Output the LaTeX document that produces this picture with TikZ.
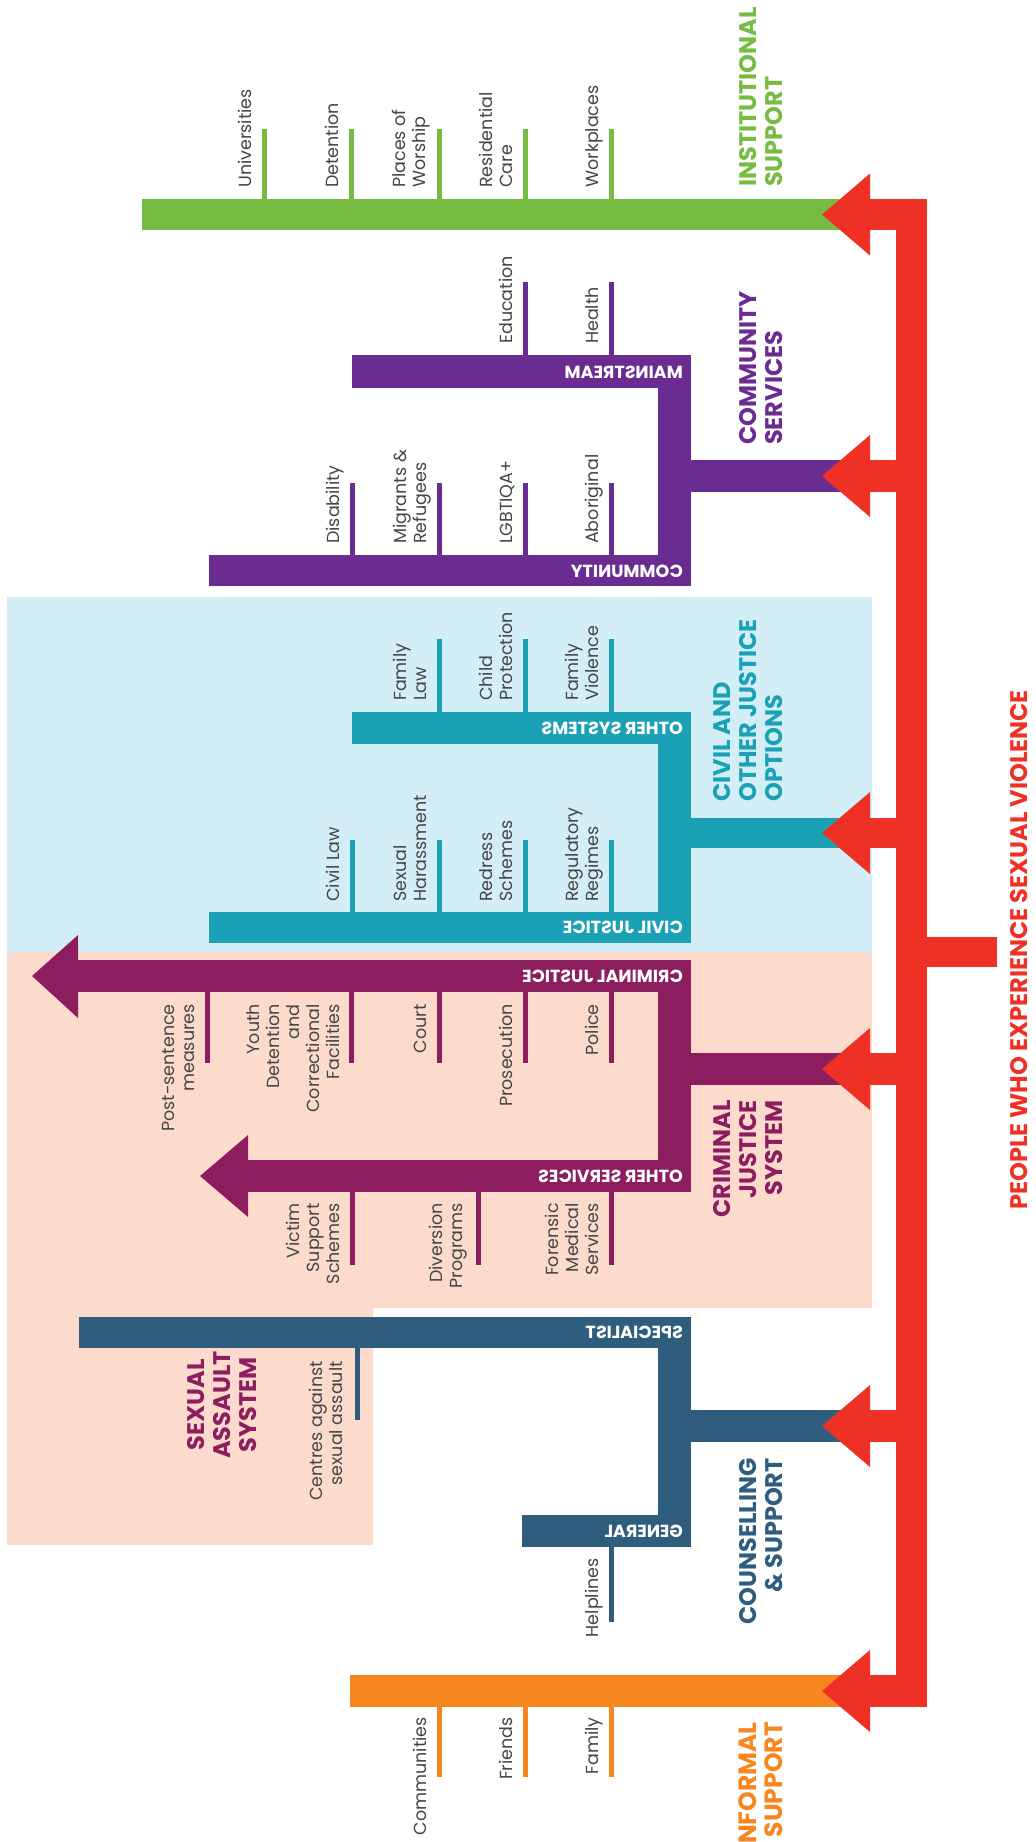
\documentclass[tikz,border=0pt]{standalone}
\usepackage{fontspec}
\setmainfont{Poppins}
\definecolor{cred}{HTML}{EE3124}
\definecolor{cgreen}{HTML}{76BC43}
\definecolor{cpurple}{HTML}{6A2C91}
\definecolor{cteal}{HTML}{1AA1B6}
\definecolor{cmaroon}{HTML}{8C1D5E}
\definecolor{cnavy}{HTML}{2E5D7D}
\definecolor{corange}{HTML}{F7861F}
\definecolor{cbgblue}{HTML}{D4EEF7}
\definecolor{cbgpink}{HTML}{FCDBCD}
\definecolor{ctext}{HTML}{454545}
\begin{document}
\begin{tikzpicture}[x=1pt,y=-1pt,
  tickline/.style={line width=5pt},
  lbl/.style={rotate=90, inner sep=0pt, text=ctext, font=\fontsize{17.5}{20}\selectfont, text depth=4pt},
  lblup/.style={lbl, align=left, anchor=south west},
  lbldn/.style={lbl, align=right, anchor=south east},
  head/.style={rotate=90, inner sep=0pt, font=\fontsize{24}{26}\selectfont\bfseries, text depth=0pt},
  headL/.style={head, align=left, anchor=south west},
  headR/.style={head, align=right, anchor=south east},
  barlbl/.style={xscale=-1, anchor=west, inner sep=0pt, text=white, text depth=0pt, font=\fontsize{17.5}{17.5}\selectfont\bfseries}
]
\useasboundingbox (0,0) rectangle (1036,1842);
\clip (0,0) rectangle (1036,1842);
\fill[white] (0,0) rectangle (1036,1842);
% backgrounds
\fill[cbgblue] (7,597) rectangle (872,952);
\fill[cbgpink] (7,952) -- (872,952) -- (872,1308) -- (373,1308) -- (373,1545) -- (7,1545) -- cycle;

% institutional (green)
\fill[cgreen] (142,199) rectangle (850,230);
\foreach \x in {264,351,439,525,611} \draw[tickline,cgreen] (\x,129) -- (\x,201);

% community (purple)
\fill[cpurple] (352,355) rectangle (691,388);
\fill[cpurple] (209,555) rectangle (691,586);
\fill[cpurple] (658,355) rectangle (691,586);
\fill[cpurple] (691,460) rectangle (850,492);
\foreach \x in {525,611} \draw[tickline,cpurple] (\x,282) -- (\x,357);
\foreach \x in {352,439,525,611} \draw[tickline,cpurple] (\x,483) -- (\x,557);

% civil (teal)
\fill[cteal] (352,712) rectangle (691,744);
\fill[cteal] (209,912) rectangle (691,943);
\fill[cteal] (658,712) rectangle (691,943);
\fill[cteal] (691,818) rectangle (850,848);
\foreach \x in {439,525,611} \draw[tickline,cteal] (\x,639) -- (\x,714);
\foreach \x in {352,439,525,611} \draw[tickline,cteal] (\x,840) -- (\x,914);

% criminal (maroon)
\fill[cmaroon] (76,960) rectangle (691,992);
\fill[cmaroon] (32,976) -- (78,935) -- (78,1018) -- cycle;
\fill[cmaroon] (246,1160) rectangle (691,1192);
\fill[cmaroon] (200,1176) -- (248,1135) -- (248,1217) -- cycle;
\fill[cmaroon] (658,960) rectangle (691,1192);
\fill[cmaroon] (691,1053) rectangle (850,1085);
\foreach \x in {207,351,439,525,611} \draw[tickline,cmaroon] (\x,990) -- (\x,1063);
\foreach \x in {352,478,611} \draw[tickline,cmaroon] (\x,1190) -- (\x,1265);

% counselling (navy)
\fill[cnavy] (79,1317) rectangle (691,1348);
\fill[cnavy] (522,1515) rectangle (691,1547);
\fill[cnavy] (658,1317) rectangle (691,1547);
\fill[cnavy] (691,1410) rectangle (850,1442);
\draw[tickline,cnavy] (357,1346) -- (357,1420);
\draw[tickline,cnavy] (611,1545) -- (611,1622);

% informal (orange)
\fill[corange] (350,1675) rectangle (850,1707);
\foreach \x in {439,525,611} \draw[tickline,corange] (\x,1705) -- (\x,1777);

% red spine and arrows
\fill[cred] (896,199) rectangle (927,1707);
\fill[cred] (926,937) rectangle (997,967);
\foreach \a/\b in {199/230,460/492,818/848,1053/1085,1410/1442,1675/1707}{
  \fill[cred] (868,\a) rectangle (900,\b);
  \fill[cred] (822,{(\a+\b)/2}) -- (870,{(\a+\b)/2-41}) -- (870,{(\a+\b)/2+41}) -- cycle;
}

% labels above bars
\node[lblup] (uni) at (256,188) {Universities};
\node[lblup] (det) at (343,188) {Detention};
\node[lblup] (pow) at (430,188) {Places of\\Worship};
\node[lblup] (res) at (517,188) {Residential\\Care};
\node[lblup] (wor) at (603,188) {Workplaces};
\node[lblup] (edu) at (517,344) {Education};
\node[lblup] (hea) at (603,344) {Health};
\node[lblup] (dis) at (344,544) {Disability};
\node[lblup] (mig) at (431,544) {Migrants \&\\Refugees};
\node[lblup] (lgb) at (517,544) {LGBTIQA+};
\node[lblup] (abo) at (603,544) {Aboriginal};
\node[lblup] (fla) at (431,701) {Family\\Law};
\node[lblup] (chi) at (517,701) {Child\\Protection};
\node[lblup] (fvi) at (603,701) {Family\\Violence};
\node[lblup] (civ) at (344,902) {Civil Law};
\node[lblup] (sha) at (431,902) {Sexual\\Harassment};
\node[lblup] (red) at (517,902) {Redress\\Schemes};
\node[lblup] (reg) at (603,902) {Regulatory\\Regimes};

% labels below bars
\node[lbldn] (pos) at (199,1004) {Post-sentence\\measures};
\node[lbldn] (you) at (344,1004) {Youth\\Detention\\and\\Correctional\\Facilities};
\node[lbldn] (cou) at (431,1004) {Court};
\node[lbldn] (pro) at (517,1004) {Prosecution};
\node[lbldn] (pol) at (603,1004) {Police};
\node[lbldn] (vic) at (344,1203) {Victim\\Support\\Schemes};
\node[lbldn] (div) at (467,1203) {Diversion\\Programs};
\node[lbldn] (for) at (603,1203) {Forensic\\Medical\\Services};
\node[lbldn] (cen) at (347,1361) {Centres against\\sexual assault};
\node[lbldn] (hel) at (603,1558) {Helplines};
\node[lbldn] (com) at (431,1717) {Communities};
\node[lbldn] (fri) at (517,1717) {Friends};
\node[lbldn] (fam) at (603,1717) {Family};

% bar labels (mirrored)
\node[barlbl] (bmain) at (683,372) {MAINSTREAM};
\node[barlbl] (bcomm) at (683,571) {COMMUNITY};
\node[barlbl] (both) at (683,728) {OTHER SYSTEMS};
\node[barlbl] (bcivj) at (683,927.5) {CIVIL JUSTICE};
\node[barlbl] (bcrim) at (683,976) {CRIMINAL JUSTICE};
\node[barlbl] (bserv) at (683,1176) {OTHER SERVICES};
\node[barlbl] (bspec) at (683,1332.5) {SPECIALIST};
\node[barlbl] (bgen) at (683,1531) {GENERAL};

% headings
\node[headL, text=cgreen] (hinst) at (783,187) {INSTITUTIONAL\\SUPPORT};
\node[headL, text=cpurple] (hcomm) at (783,445) {COMMUNITY\\SERVICES};
\node[headL, text=cteal] (hciv) at (783,802) {CIVIL AND\\OTHER JUSTICE\\OPTIONS};
\node[headR, text=cmaroon] (hcrim) at (783,1100) {CRIMINAL\\JUSTICE\\SYSTEM};
\node[headR, text=cnavy] (hcoun) at (783,1458) {COUNSELLING\\\& SUPPORT};
\node[headR, text=corange, font=\fontsize{25}{26}\selectfont\bfseries] (hinf) at (783,1722) {INFORMAL\\SUPPORT};
\node[head, align=center, anchor=south, text=cmaroon] (hsas) at (257,1405) {SEXUAL\\ASSAULT\\SYSTEM};
\node[head, anchor=south, text=cred] (people) at (1028,950) {PEOPLE WHO EXPERIENCE SEXUAL VIOLENCE};
\end{tikzpicture}
\end{document}
